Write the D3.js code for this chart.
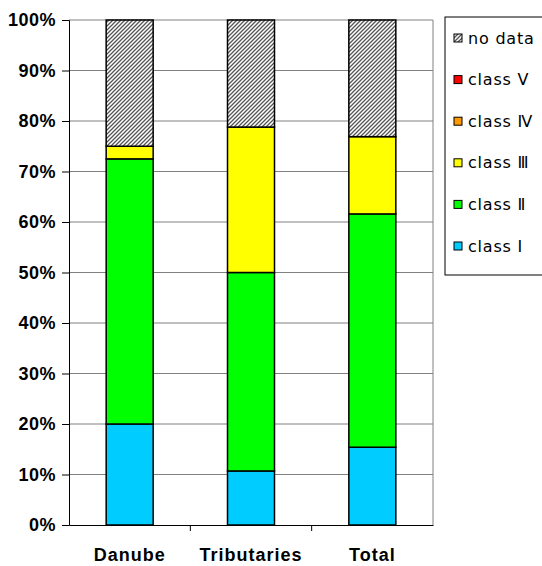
<!DOCTYPE html>
<html>
<head>
<meta charset="utf-8">
<script src="https://cdn.jsdelivr.net/npm/d3@7"></script>
<style>
  body { margin: 0; background: #fff; }
  text { font-family: "Liberation Sans", Arial, sans-serif; }
</style>
</head>
<body>
<div id="wrapper"></div>
<script>
// data (percent of river length per class)
const categories = ["Danube", "Tributaries", "Total"]
const classI   = [20, 10.7, 15.4]
const classII  = [52.5, 39.3, 46.2]
const classIII = [2.5, 28.8, 15.3]
const classIV  = [0, 0, 0]
const classV   = [0, 0, 0]
const noData   = [25, 21.2, 23.1]
const yTicks = [0, 10, 20, 30, 40, 50, 60, 70, 80, 90, 100]

const seriesKeys = ["class I", "class II", "class III", "class IV", "class V", "no data"]
const seriesValues = [classI, classII, classIII, classIV, classV, noData]
const legendLabels = ["no data", "class V", "class \u2163", "class \u2162", "class \u2161", "class I"]
const colors = {
    "class I": "#00ccff",
    "class II": "#00ff00",
    "class III": "#ffff00",
    "class IV": "#ff9900",
    "class V": "#ff0000",
    "no data": "url(#hatch)"
}
const legendKeys = ["no data", "class V", "class IV", "class III", "class II", "class I"]

const table = categories.map((c, i) => {
    const row = { cat: c }
    seriesKeys.forEach((k, j) => row[k] = seriesValues[j][i])
    return row
})

const dims = {
    width: 542,
    height: 566,
    margin: { top: 20, right: 109, bottom: 41, left: 69 }
}
dims.boundedWidth = dims.width - dims.margin.left - dims.margin.right
dims.boundedHeight = dims.height - dims.margin.top - dims.margin.bottom

const svg = d3.select("#wrapper").append("svg")
    .attr("width", dims.width)
    .attr("height", dims.height)

const defs = svg.append("defs")
const pat = defs.append("pattern")
    .attr("id", "hatch")
    .attr("patternUnits", "userSpaceOnUse")
    .attr("width", 4).attr("height", 4)
pat.append("rect").attr("width", 4).attr("height", 4).attr("fill", "#fff")
pat.append("path")
    .attr("d", "M-1,1 l2,-2 M0,4 l4,-4 M3,5 l2,-2")
    .attr("stroke", "#555")
    .attr("stroke-width", 1.3)

const bounds = svg.append("g")
    .attr("transform", `translate(${dims.margin.left},${dims.margin.top})`)

const xScale = d3.scaleBand()
    .domain(categories)
    .range([0, dims.boundedWidth])
    .paddingInner(0)
    .paddingOuter(0)

const yScale = d3.scaleLinear()
    .domain([0, 100])
    .range([dims.boundedHeight, 0])

// gridlines
bounds.append("g")
    .selectAll("line")
    .data(yTicks.filter(t => t > 0))
    .join("line")
    .attr("x1", 0).attr("x2", dims.boundedWidth)
    .attr("y1", d => yScale(d)).attr("y2", d => yScale(d))
    .attr("stroke", "#808080")
    .attr("stroke-width", 1)

// right border of plot area
bounds.append("line")
    .attr("x1", dims.boundedWidth).attr("x2", dims.boundedWidth)
    .attr("y1", 0).attr("y2", dims.boundedHeight)
    .attr("stroke", "#808080")

// stacked bars
const stack = d3.stack().keys(seriesKeys)(table)
const barW = 47

bounds.append("g")
    .selectAll("g")
    .data(stack)
    .join("g")
    .attr("fill", d => colors[d.key])
    .selectAll("rect")
    .data(d => d.filter(p => p[1] - p[0] > 0))
    .join("rect")
    .attr("x", d => xScale(d.data.cat) + xScale.bandwidth() / 2 - barW / 2)
    .attr("width", barW)
    .attr("y", d => yScale(d[1]))
    .attr("height", d => yScale(d[0]) - yScale(d[1]))
    .attr("stroke", "#000")
    .attr("stroke-width", 1.5)

// y axis
const yAxis = bounds.append("g")
    .call(d3.axisLeft(yScale).tickValues(yTicks).tickSize(7).tickFormat(d => d + "%"))
yAxis.select(".domain").attr("stroke", "#000")
yAxis.selectAll(".tick text")
    .attr("x", -13)
    .style("font-size", "18px")
    .style("font-weight", "bold")
    .style("letter-spacing", "0.5px")
    .attr("fill", "#000")

// x axis
const xAxis = bounds.append("g")
    .attr("transform", `translate(0,${dims.boundedHeight})`)
    .call(d3.axisBottom(xScale).tickSize(0).tickPadding(20))
xAxis.select(".domain").attr("stroke", "#000")
xAxis.selectAll(".tick text")
    .style("font-size", "18px")
    .style("font-weight", "bold")
    .style("letter-spacing", "1px")
    .attr("fill", "#000")
    .attr("dy", "0.9em")

// category separator ticks
bounds.append("g")
    .selectAll("line")
    .data(categories.slice(1))
    .join("line")
    .attr("x1", d => xScale(d)).attr("x2", d => xScale(d))
    .attr("y1", dims.boundedHeight).attr("y2", dims.boundedHeight + 6)
    .attr("stroke", "#000")

// legend
const legend = svg.append("g").attr("transform", "translate(445,17)")
legend.append("rect")
    .attr("width", 110).attr("height", 258)
    .attr("fill", "#fff").attr("stroke", "#000")

const items = legend.selectAll("g")
    .data(legendKeys)
    .join("g")
    .attr("transform", (d, i) => `translate(9,${21 + i * 41.6})`)
items.append("rect")
    .attr("x", 0).attr("y", -4)
    .attr("width", 8).attr("height", 8)
    .attr("fill", d => colors[d])
    .attr("stroke", "#000")
items.append("text")
    .attr("x", 14)
    .attr("dy", "0.35em")
    .style("font-family", "'DejaVu Sans', sans-serif")
    .style("font-size", "16px")
    .style("letter-spacing", "0.8px")
    .attr("fill", "#000")
    .text((d, i) => legendLabels[i])
</script>
</body>
</html>
